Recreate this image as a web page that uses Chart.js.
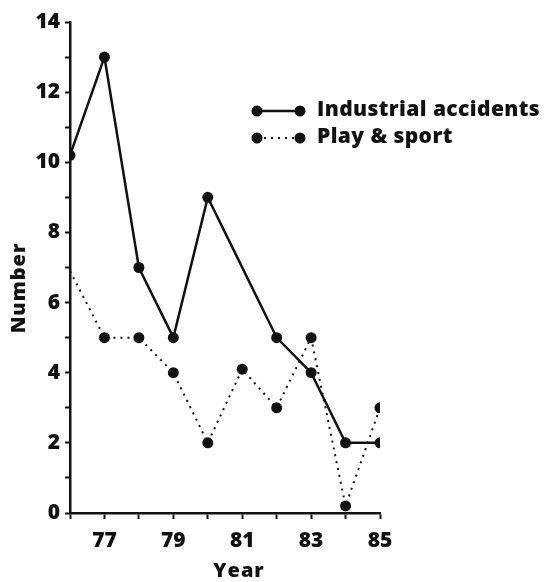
<!DOCTYPE html>
<html>
<head>
<meta charset="utf-8">
<script src="https://cdn.jsdelivr.net/npm/chart.js@4/dist/chart.umd.min.js"></script>
<style>
  html, body { margin: 0; padding: 0; background: #fff; }
  #wrap { width: 547px; height: 582px; position: relative; }
</style>
</head>
<body>
<div id="wrap"><canvas id="accidentsChart"></canvas></div>
<script>
// Data
const years = [76, 77, 78, 79, 80, 81, 82, 83, 84, 85];
const industrialAccidents = [10.2, 13, 7, 5, 9, null, 5, 4, 2, 2];
const playSport = [6.9, 5, 5, 4, 2, 4.1, 3, 5, 0.2, 3];
const xTickLabels = ['77', '79', '81', '83', '85'];
const yTickLabels = ['0', '2', '4', '6', '8', '10', '12', '14'];
const seriesNames = ['Industrial accidents', 'Play & sport'];

const INK = '#111';
const FONT = '"Open Sans", "DejaVu Sans", sans-serif';

function toPoints(values) {
    return years.map(function(y, i) { return { x: y, y: values[i] }; });
}

// Legend and axis titles drawn on the canvas to match the original placement
const annotations = {
    id: 'annotations',
    afterDraw(chart) {
        const ctx = chart.ctx;
        ctx.save();
        ctx.fillStyle = INK;
        ctx.strokeStyle = INK;

        const rows = [
            { y: 111, dash: [] , width: 2.5 },
            { y: 138, dash: [2, 5], width: 2 }
        ];
        rows.forEach(function(row, i) {
            ctx.setLineDash(row.dash);
            ctx.lineWidth = row.width;
            ctx.beginPath();
            ctx.moveTo(257, row.y);
            ctx.lineTo(300, row.y);
            ctx.stroke();
            ctx.setLineDash([]);
            [257, 300].forEach(function(x) {
                ctx.beginPath();
                ctx.arc(x, row.y, 5.5, 0, Math.PI * 2);
                ctx.fill();
            });
            ctx.font = '800 21px ' + FONT;
            ctx.letterSpacing = '0.4px';
            ctx.textAlign = 'left';
            ctx.textBaseline = 'middle';
            ctx.fillText(seriesNames[i], 317, row.y - 1);
        });

        ctx.letterSpacing = '1px';
        ctx.font = '800 20px ' + FONT;
        ctx.textAlign = 'center';
        ctx.textBaseline = 'middle';
        ctx.fillText('Year', 239, 571);

        ctx.translate(19, 288);
        ctx.rotate(-Math.PI / 2);
        ctx.fillText('Number', 0, 0);
        ctx.restore();
    }
};

new Chart(document.getElementById('accidentsChart').getContext('2d'), {
    type: 'line',
    data: {
        datasets: [{
            label: seriesNames[0],
            data: toPoints(industrialAccidents),
            borderColor: INK,
            borderWidth: 2.5,
            backgroundColor: INK,
            pointBackgroundColor: INK,
            pointBorderWidth: 0,
            pointRadius: 5.5,
            spanGaps: true,
            tension: 0
        }, {
            label: seriesNames[1],
            data: toPoints(playSport),
            borderColor: INK,
            borderWidth: 2,
            borderDash: [2, 5],
            backgroundColor: INK,
            pointBackgroundColor: INK,
            pointBorderWidth: 0,
            pointRadius: playSport.map(function(v, i) { return i === 0 ? 0 : 5.5; }),
            tension: 0
        }]
    },
    options: {
        responsive: true,
        maintainAspectRatio: false,
        animation: false,
        layout: {
            padding: { top: 22, right: 167, left: 0, bottom: 0 }
        },
        plugins: {
            legend: { display: false },
            tooltip: { enabled: false }
        },
        scales: {
            x: {
                type: 'linear',
                min: 76,
                max: 85,
                afterFit: function(scale) { scale.height = 69; },
                border: { color: INK, width: 2.5 },
                grid: { drawOnChartArea: false, drawTicks: true, tickLength: 6, tickColor: INK, tickWidth: 2 },
                ticks: {
                    stepSize: 1,
                    color: INK,
                    padding: 9,
                    maxRotation: 0,
                    autoSkip: false,
                    font: { family: FONT, size: 21, weight: '800' },
                    callback: function(v) {
                        const s = String(v);
                        return xTickLabels.indexOf(s) >= 0 ? s : '';
                    }
                }
            },
            y: {
                min: 0,
                max: 14,
                afterFit: function(scale) { scale.width = 70; },
                border: { color: INK, width: 2.5 },
                grid: { drawOnChartArea: false, drawTicks: true, tickLength: 5, tickColor: INK, tickWidth: 2 },
                ticks: {
                    stepSize: 1,
                    color: INK,
                    padding: 5,
                    autoSkip: false,
                    font: { family: FONT, size: 21, weight: '800' },
                    callback: function(v) {
                        const s = String(v);
                        return yTickLabels.indexOf(s) >= 0 ? s : '';
                    }
                }
            }
        }
    },
    plugins: [annotations]
});
</script>
</body>
</html>
